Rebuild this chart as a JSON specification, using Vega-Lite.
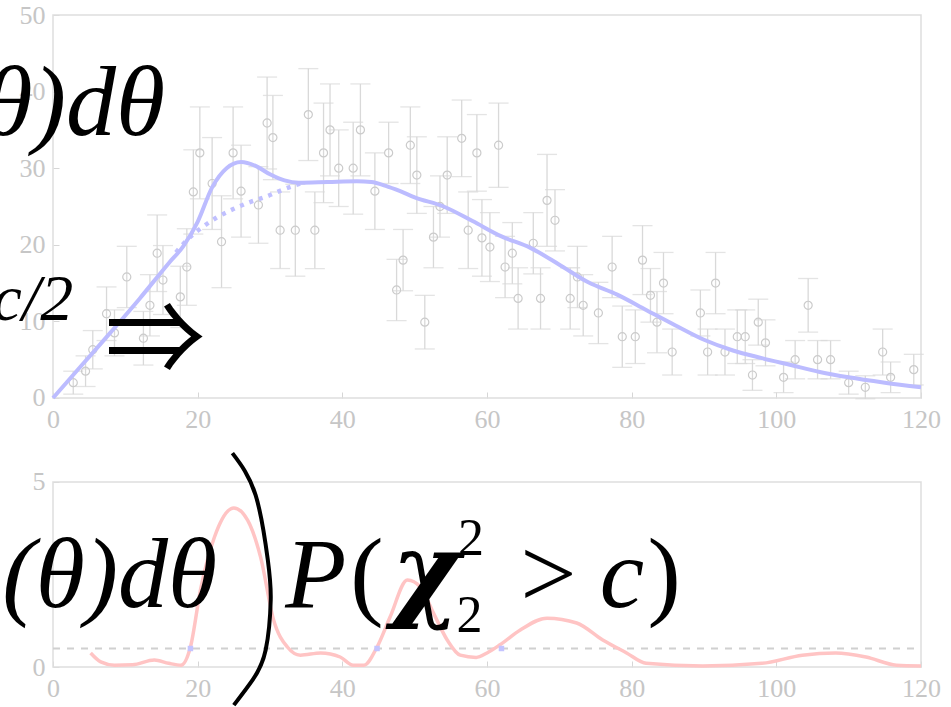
{
  "$schema": "https://vega.github.io/schema/vega-lite/v6.json",
  "autosize": {"type": "none"},
  "width": 868,
  "height": 652,
  "padding": {"left": 53, "top": 15, "right": 30, "bottom": 40},
  "background": "white",
  "config": {
    "view": {"stroke": null},
    "axis": {
      "domain": false, "grid": false,
      "labelFont": "Liberation Serif", "labelFontSize": 26, "labelColor": "#c6c6c6",
      "tickColor": "#d6d6d6", "tickSize": -6, "tickWidth": 1,
      "labelOverlap": false, "title": null
    }
  },
  "datasets": {
    "pts": [
      {"x": 2.8, "y": 2.0, "e": 1.5}, {"x": 4.5, "y": 3.5, "e": 2}, {"x": 5.5, "y": 6.3, "e": 2.5},
      {"x": 7.4, "y": 11, "e": 3.5}, {"x": 8.5, "y": 8.5, "e": 3}, {"x": 10.2, "y": 15.8, "e": 4},
      {"x": 12.5, "y": 7.8, "e": 3.5}, {"x": 13.4, "y": 12.1, "e": 4}, {"x": 14.4, "y": 18.9, "e": 5},
      {"x": 15.2, "y": 15.4, "e": 4.5}, {"x": 17.6, "y": 13.2, "e": 4}, {"x": 18.5, "y": 17.1, "e": 5},
      {"x": 19.4, "y": 26.9, "e": 5.5}, {"x": 20.3, "y": 32, "e": 6}, {"x": 22, "y": 28, "e": 6},
      {"x": 23.3, "y": 20.4, "e": 6}, {"x": 24.9, "y": 32, "e": 6}, {"x": 26, "y": 27, "e": 6},
      {"x": 28.4, "y": 25.2, "e": 5}, {"x": 29.6, "y": 35.9, "e": 6}, {"x": 30.4, "y": 34, "e": 5.5},
      {"x": 31.4, "y": 21.9, "e": 5}, {"x": 33.5, "y": 21.9, "e": 6}, {"x": 35.3, "y": 37, "e": 6},
      {"x": 36.2, "y": 21.9, "e": 5}, {"x": 37.4, "y": 32, "e": 6.5}, {"x": 38.3, "y": 35, "e": 6},
      {"x": 39.5, "y": 30, "e": 5}, {"x": 41.5, "y": 30, "e": 6}, {"x": 42.5, "y": 35, "e": 6},
      {"x": 44.5, "y": 27, "e": 5}, {"x": 46.4, "y": 32, "e": 4}, {"x": 47.5, "y": 14.1, "e": 4},
      {"x": 48.4, "y": 18, "e": 4}, {"x": 49.4, "y": 33, "e": 5}, {"x": 50.3, "y": 29.1, "e": 5},
      {"x": 51.4, "y": 9.9, "e": 3.5}, {"x": 52.6, "y": 21, "e": 4}, {"x": 53.5, "y": 25, "e": 4},
      {"x": 54.5, "y": 29.1, "e": 5}, {"x": 56.5, "y": 33.9, "e": 5}, {"x": 57.4, "y": 21.9, "e": 5},
      {"x": 58.6, "y": 32, "e": 5}, {"x": 59.3, "y": 20.9, "e": 5}, {"x": 60.4, "y": 19.7, "e": 4.5},
      {"x": 61.6, "y": 33, "e": 5.5}, {"x": 62.5, "y": 17.1, "e": 4}, {"x": 63.5, "y": 18.9, "e": 4},
      {"x": 64.3, "y": 13, "e": 4}, {"x": 66.4, "y": 20.2, "e": 4}, {"x": 67.4, "y": 13, "e": 4},
      {"x": 68.3, "y": 25.8, "e": 6}, {"x": 69.4, "y": 23.2, "e": 4}, {"x": 71.5, "y": 13, "e": 4},
      {"x": 72.5, "y": 15.8, "e": 4}, {"x": 73.3, "y": 12.1, "e": 4}, {"x": 75.4, "y": 11.1, "e": 4},
      {"x": 77.3, "y": 17.1, "e": 4}, {"x": 78.7, "y": 8, "e": 4}, {"x": 80.5, "y": 8, "e": 3.5},
      {"x": 81.5, "y": 18, "e": 4.5}, {"x": 82.6, "y": 13.4, "e": 3.5}, {"x": 83.5, "y": 9.9, "e": 4},
      {"x": 84.4, "y": 15, "e": 4}, {"x": 85.6, "y": 6, "e": 3}, {"x": 89.5, "y": 11.1, "e": 3},
      {"x": 90.5, "y": 6, "e": 3}, {"x": 91.6, "y": 15, "e": 4}, {"x": 92.9, "y": 6, "e": 3},
      {"x": 94.6, "y": 8, "e": 3.5}, {"x": 95.7, "y": 8, "e": 3.5}, {"x": 96.7, "y": 3, "e": 2},
      {"x": 97.5, "y": 9.9, "e": 3}, {"x": 98.5, "y": 7.2, "e": 3}, {"x": 101, "y": 2.7, "e": 2},
      {"x": 102.6, "y": 5, "e": 2.5}, {"x": 104.4, "y": 12.1, "e": 3.5}, {"x": 105.7, "y": 5, "e": 2.5},
      {"x": 107.5, "y": 5, "e": 2.5}, {"x": 110, "y": 2, "e": 1.5}, {"x": 112.3, "y": 1.4, "e": 1.5},
      {"x": 114.7, "y": 6, "e": 3}, {"x": 115.8, "y": 2.7, "e": 2}, {"x": 119, "y": 3.7, "e": 2}
    ]
  },
  "resolve": {"scale": {"y": "independent"}, "axis": {"x": "independent", "y": "independent"}},
  "layer": [
    {
      "layer": [
        {
          "data": {"values": [{}]},
          "mark": {"type": "rect", "fillOpacity": 0, "stroke": "#dedede", "strokeWidth": 1.5},
          "encoding": {
            "x": {"datum": 0, "type": "quantitative", "scale": {"domain": [0, 120], "nice": false},
                  "axis": {"orient": "bottom", "offset": -269, "values": [0, 20, 40, 60, 80, 100, 120],
                           "labelPadding": 14, "labelOverlap": false, "labelFlush": false}},
            "x2": {"datum": 120},
            "y": {"datum": 0, "type": "quantitative", "scale": {"domain": [-35.12, 50], "nice": false, "zero": false},
                  "axis": {"orient": "left", "values": [0, 10, 20, 30, 40, 50], "labelPadding": 14, "labelOverlap": false}},
            "y2": {"datum": 50}
          }
        },
        {
          "data": {"name": "pts"},
          "transform": [{"calculate": "datum.y - datum.e", "as": "lo"}, {"calculate": "datum.y + datum.e", "as": "hi"}],
          "mark": {"type": "rule", "color": "#d9d9d9", "strokeWidth": 1.3},
          "encoding": {"x": {"field": "x", "type": "quantitative"}, "y": {"field": "lo", "type": "quantitative"}, "y2": {"field": "hi"}}
        },
        {
          "data": {"name": "pts"},
          "transform": [{"calculate": "datum.y - datum.e", "as": "lo"}],
          "mark": {"type": "tick", "orient": "horizontal", "color": "#d9d9d9", "size": 20, "thickness": 1.3},
          "encoding": {"x": {"field": "x", "type": "quantitative"}, "y": {"field": "lo", "type": "quantitative"}}
        },
        {
          "data": {"name": "pts"},
          "transform": [{"calculate": "datum.y + datum.e", "as": "hi"}],
          "mark": {"type": "tick", "orient": "horizontal", "color": "#d9d9d9", "size": 20, "thickness": 1.3},
          "encoding": {"x": {"field": "x", "type": "quantitative"}, "y": {"field": "hi", "type": "quantitative"}}
        },
        {
          "data": {"name": "pts"},
          "mark": {"type": "point", "shape": "circle", "filled": false, "size": 65, "color": "#cbcbcb", "strokeWidth": 1.2, "opacity": 1},
          "encoding": {"x": {"field": "x", "type": "quantitative"}, "y": {"field": "y", "type": "quantitative"}}
        },
        {
          "data": {"values": [
            {"x": 17, "y": 19}, {"x": 18.5, "y": 20.6}, {"x": 20.5, "y": 22.2}, {"x": 22.7, "y": 23.6},
            {"x": 25, "y": 24.7}, {"x": 27, "y": 25.5}, {"x": 29.5, "y": 26.3}, {"x": 31.8, "y": 27.2}, {"x": 34.2, "y": 28}
          ]},
          "mark": {"type": "line", "color": "#c0c0ff", "strokeWidth": 4.5, "strokeDash": [4, 6], "interpolate": "monotone"},
          "encoding": {"x": {"field": "x", "type": "quantitative"}, "y": {"field": "y", "type": "quantitative"}}
        },
        {
          "data": {"values": [
            {"x": 0, "y": 0}, {"x": 4, "y": 4.3}, {"x": 8, "y": 8.6}, {"x": 12, "y": 13}, {"x": 16, "y": 17.6},
            {"x": 18, "y": 19.8}, {"x": 20, "y": 23}, {"x": 22, "y": 27.5}, {"x": 24, "y": 30}, {"x": 26, "y": 30.8},
            {"x": 28, "y": 30.3}, {"x": 30, "y": 29.2}, {"x": 32, "y": 28.4}, {"x": 34, "y": 28.1}, {"x": 38, "y": 28.2},
            {"x": 42, "y": 28.3}, {"x": 44, "y": 28.2}, {"x": 46, "y": 27.7}, {"x": 48, "y": 27}, {"x": 50, "y": 26.2},
            {"x": 54, "y": 25}, {"x": 58, "y": 23.1}, {"x": 62, "y": 21.1}, {"x": 66, "y": 19.6}, {"x": 70, "y": 17.4},
            {"x": 74, "y": 15.1}, {"x": 78, "y": 13.5}, {"x": 82, "y": 11.5}, {"x": 86, "y": 9.5}, {"x": 90, "y": 7.6},
            {"x": 94, "y": 6.2}, {"x": 98, "y": 5.2}, {"x": 102, "y": 4.3}, {"x": 106, "y": 3.4}, {"x": 110, "y": 2.7},
            {"x": 115, "y": 2}, {"x": 120, "y": 1.4}
          ]},
          "mark": {"type": "line", "color": "#bcbcff", "strokeWidth": 4, "interpolate": "monotone"},
          "encoding": {"x": {"field": "x", "type": "quantitative"}, "y": {"field": "y", "type": "quantitative"}}
        },
        {
          "data": {"values": [{"x": 15.5, "y": 34.3, "t": "θ)dθ"}]},
          "mark": {"type": "text", "font": "Liberation Serif", "fontStyle": "italic", "fontSize": 100, "align": "right", "baseline": "alphabetic", "color": "black"},
          "encoding": {"x": {"field": "x", "type": "quantitative"}, "y": {"field": "y", "type": "quantitative"}, "text": {"field": "t"}}
        },
        {
          "data": {"values": [{"x": 2.8, "y": 10.2, "t": "c/2"}]},
          "mark": {"type": "text", "font": "Liberation Serif", "fontStyle": "italic", "fontSize": 66, "align": "right", "baseline": "alphabetic", "color": "black"},
          "encoding": {"x": {"field": "x", "type": "quantitative"}, "y": {"field": "y", "type": "quantitative"}, "text": {"field": "t"}}
        },
        {
          "data": {"values": [{"x": 14.1, "y": 7.05, "t": "⇒"}]},
          "mark": {"type": "text", "font": "Noto Sans CJK JP", "fontSize": 100, "align": "center", "baseline": "middle", "color": "black"},
          "encoding": {"x": {"field": "x", "type": "quantitative"}, "y": {"field": "y", "type": "quantitative"}, "text": {"field": "t"}}
        }
      ]
    },
    {
      "layer": [
        {
          "data": {"values": [{}]},
          "mark": {"type": "rect", "fillOpacity": 0, "stroke": "#dedede", "strokeWidth": 1.5},
          "encoding": {
            "x": {"datum": 0, "type": "quantitative", "scale": {"domain": [0, 120], "nice": false},
                  "axis": {"orient": "bottom", "values": [0, 20, 40, 60, 80, 100, 120],
                           "labelPadding": 14, "labelOverlap": false, "labelFlush": false}},
            "x2": {"datum": 120},
            "y": {"datum": 0, "type": "quantitative", "scale": {"domain": [0, 17.62], "nice": false, "zero": false},
                  "axis": {"orient": "left", "values": [0, 5], "labelPadding": 14, "labelOverlap": false}},
            "y2": {"datum": 5}
          }
        },
        {
          "data": {"values": [{"x": 0, "y": 0.5}, {"x": 120, "y": 0.5}]},
          "mark": {"type": "line", "color": "#d0d0d0", "strokeWidth": 2, "strokeDash": [7, 7]},
          "encoding": {"x": {"field": "x", "type": "quantitative"}, "y": {"field": "y", "type": "quantitative"}}
        },
        {
          "data": {"values": [
            {"x": 5.2, "y": 0.38}, {"x": 6.6, "y": 0.14}, {"x": 8.5, "y": 0.05}, {"x": 11, "y": 0.06}, {"x": 14, "y": 0.19},
            {"x": 16, "y": 0.1}, {"x": 17.7, "y": 0.05}, {"x": 19, "y": 0.54}, {"x": 20.4, "y": 2.1}, {"x": 22.3, "y": 3.5},
            {"x": 25, "y": 4.3}, {"x": 26.9, "y": 3.97}, {"x": 28.7, "y": 2.97}, {"x": 30.5, "y": 1.27}, {"x": 32.4, "y": 0.54},
            {"x": 34.2, "y": 0.32}, {"x": 37, "y": 0.38}, {"x": 39.7, "y": 0.27}, {"x": 41.5, "y": 0.05}, {"x": 43, "y": 0.05},
            {"x": 44.8, "y": 0.54}, {"x": 46.6, "y": 1.35}, {"x": 49, "y": 2.35}, {"x": 50.8, "y": 2.16}, {"x": 52.6, "y": 1.46},
            {"x": 54.5, "y": 0.73}, {"x": 56.3, "y": 0.32}, {"x": 58.5, "y": 0.26}, {"x": 60, "y": 0.38}, {"x": 61.8, "y": 0.6},
            {"x": 64.6, "y": 1.0}, {"x": 68.3, "y": 1.32}, {"x": 72.4, "y": 1.19}, {"x": 76, "y": 0.73}, {"x": 79.3, "y": 0.38},
            {"x": 82, "y": 0.1}, {"x": 89.8, "y": 0.03}, {"x": 98, "y": 0.1}, {"x": 103.6, "y": 0.32}, {"x": 108.2, "y": 0.38},
            {"x": 112.4, "y": 0.27}, {"x": 116.6, "y": 0.05}, {"x": 120, "y": 0.03}
          ]},
          "mark": {"type": "line", "color": "#ffc4c4", "strokeWidth": 3.5, "interpolate": "monotone"},
          "encoding": {"x": {"field": "x", "type": "quantitative"}, "y": {"field": "y", "type": "quantitative"}}
        },
        {
          "data": {"values": [{"x": 19, "y": 0.5}, {"x": 44.8, "y": 0.5}, {"x": 62, "y": 0.5}]},
          "mark": {"type": "square", "color": "#c4c4ff", "size": 30, "opacity": 1},
          "encoding": {"x": {"field": "x", "type": "quantitative"}, "y": {"field": "y", "type": "quantitative"}}
        },
        {
          "data": {"values": [
            {"i": 0, "x": 24.8, "y": 5.78}, {"i": 1, "x": 28.0, "y": 4.65}, {"i": 2, "x": 29.7, "y": 2.89},
            {"i": 3, "x": 30.1, "y": 1.81}, {"i": 4, "x": 29.4, "y": 0.46}, {"i": 5, "x": 27.6, "y": -0.35}, {"i": 6, "x": 25.0, "y": -1.03}
          ]},
          "mark": {"type": "line", "color": "black", "strokeWidth": 4, "interpolate": "natural"},
          "encoding": {"x": {"field": "x", "type": "quantitative"}, "y": {"field": "y", "type": "quantitative"}, "order": {"field": "i", "type": "quantitative"}}
        },
        {
          "data": {"values": [{"x": 22.7, "y": 1.62, "t": "(θ)dθ"}]},
          "mark": {"type": "text", "font": "Liberation Serif", "fontStyle": "italic", "fontSize": 100, "align": "right", "baseline": "alphabetic", "color": "black"},
          "encoding": {"x": {"field": "x", "type": "quantitative"}, "y": {"field": "y", "type": "quantitative"}, "text": {"field": "t"}}
        },
        {
          "data": {"values": [{"x": 32.1, "y": 1.62, "t": "P"}, {"x": 75.6, "y": 1.62, "t": "c"}]},
          "mark": {"type": "text", "font": "Liberation Serif", "fontStyle": "italic", "fontSize": 100, "align": "left", "baseline": "alphabetic", "color": "black"},
          "encoding": {"x": {"field": "x", "type": "quantitative"}, "y": {"field": "y", "type": "quantitative"}, "text": {"field": "t"}}
        },
        {
          "data": {"values": [{"x": 41.1, "y": 1.62, "t": "("}, {"x": 64.6, "y": 1.62, "t": ">"}, {"x": 82.2, "y": 1.62, "t": ")"}]},
          "mark": {"type": "text", "font": "Liberation Serif", "fontSize": 100, "align": "left", "baseline": "alphabetic", "color": "black"},
          "encoding": {"x": {"field": "x", "type": "quantitative"}, "y": {"field": "y", "type": "quantitative"}, "text": {"field": "t"}}
        },
        {
          "data": {"values": [{"x": 46.8, "y": 1.62, "t": "χ"}]},
          "mark": {"type": "text", "font": "DejaVu Serif", "fontStyle": "italic", "fontWeight": "bold", "fontSize": 104, "align": "left", "baseline": "alphabetic", "color": "black"},
          "encoding": {"x": {"field": "x", "type": "quantitative"}, "y": {"field": "y", "type": "quantitative"}, "text": {"field": "t"}}
        },
        {
          "data": {"values": [{"x": 56.0, "y": 3.03, "t": "2"}, {"x": 55.8, "y": 0.95, "t": "2"}]},
          "mark": {"type": "text", "font": "Liberation Serif", "fontSize": 52, "align": "left", "baseline": "alphabetic", "color": "black"},
          "encoding": {"x": {"field": "x", "type": "quantitative"}, "y": {"field": "y", "type": "quantitative"}, "text": {"field": "t"}}
        }
      ]
    }
  ]
}
